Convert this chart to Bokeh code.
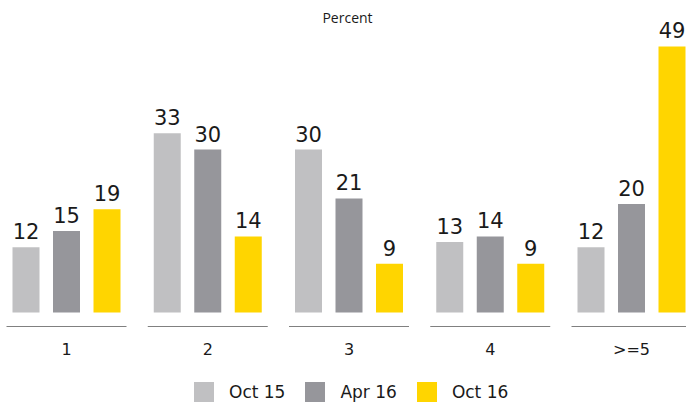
from bokeh.plotting import figure
from bokeh.models import (ColumnDataSource, Range1d, FixedTicker, Legend, LegendItem, Label)
from bokeh.core.properties import value
from bokeh.embed import file_html
from bokeh.resources import INLINE

# ---- data ----
categories = ["1", "2", "3", "4", ">=5"]
series_names = ["Oct 15", "Apr 16", "Oct 16"]
oct15 = [12, 33, 30, 13, 12]
apr16 = [15, 30, 21, 14, 20]
oct16 = [19, 14, 9, 9, 49]
colors = ["#C0C0C2", "#96969B", "#FFD500"]

# ---- layout constants (px-based) ----
W, H = 686, 405
PX_PER_CAT = 141.25
FIRST_CENTER = 66.0
PX_PER_UNIT = 5.43
BASELINE_Y = 312.0      # px from top
AXISLINE_Y = 326.0      # px from top

x_start = -FIRST_CENTER / PX_PER_CAT
x_end = x_start + W / PX_PER_CAT
y_end = BASELINE_Y / PX_PER_UNIT
y_start = y_end - H / PX_PER_UNIT
axis_y = -(AXISLINE_Y - BASELINE_Y) / PX_PER_UNIT

offset = 40.5 / PX_PER_CAT
bar_w = 27.0 / PX_PER_CAT

p = figure(width=W, height=H,
           x_range=Range1d(x_start, x_end), y_range=Range1d(y_start, y_end),
           output_backend="svg", toolbar_location=None, min_border=0,
           background_fill_color="white", border_fill_color="white")
p.outline_line_color = None
p.grid.visible = False
p.yaxis.visible = False

xs = list(range(len(categories)))
renderers = []
for k, (vals, col) in enumerate(zip([oct15, apr16, oct16], colors)):
    dx = (k - 1) * offset
    src = ColumnDataSource(dict(x=[x + dx for x in xs], top=vals,
                                lbl=[str(v) for v in vals]))
    r = p.vbar(x="x", top="top", bottom=0, width=bar_w, source=src,
               fill_color=col, line_color=None)
    renderers.append(r)
    p.text(x="x", y="top", text="lbl", source=src, text_align="center",
           text_baseline="alphabetic", y_offset=-16,
           text_font=value("DejaVu Sans"), text_font_size="21px",
           text_color="#1a1a1a")

# per-category axis segments
seg_half = 60.0 / PX_PER_CAT
p.segment(x0=[x - seg_half for x in xs], x1=[x + seg_half for x in xs],
          y0=[axis_y] * len(xs), y1=[axis_y] * len(xs),
          line_color="#808080", line_width=1)

ax = p.xaxis[0]
ax.fixed_location = axis_y
ax.ticker = FixedTicker(ticks=xs)
ax.major_label_overrides = {i: c for i, c in enumerate(categories)}
ax.axis_line_color = None
ax.major_tick_line_color = None
ax.minor_tick_line_color = None
ax.major_tick_out = 0
ax.major_tick_in = 0
ax.major_label_standoff = 13
ax.major_label_text_font = "DejaVu Sans"
ax.major_label_text_font_size = "16px"
ax.major_label_text_color = "#1a1a1a"

p.add_layout(Label(x=347, y=H - 17, x_units="screen", y_units="screen",
                   text="Percent", text_align="center", text_baseline="middle",
                   text_font="Open Sans", text_font_size="14px",
                   text_color="#1a1a1a"))

legend = Legend(items=[LegendItem(label=n, renderers=[r]) for n, r in zip(series_names, renderers)],
                orientation="horizontal", location=(191, 1),
                glyph_width=25, glyph_height=25, label_standoff=13, spacing=17,
                padding=0, margin=0, border_line_color=None,
                background_fill_alpha=0,
                label_text_font="DejaVu Sans", label_text_font_size="17px",
                label_text_color="#1a1a1a")
p.add_layout(legend)

open("out.html", "w").write(file_html(p, INLINE))
